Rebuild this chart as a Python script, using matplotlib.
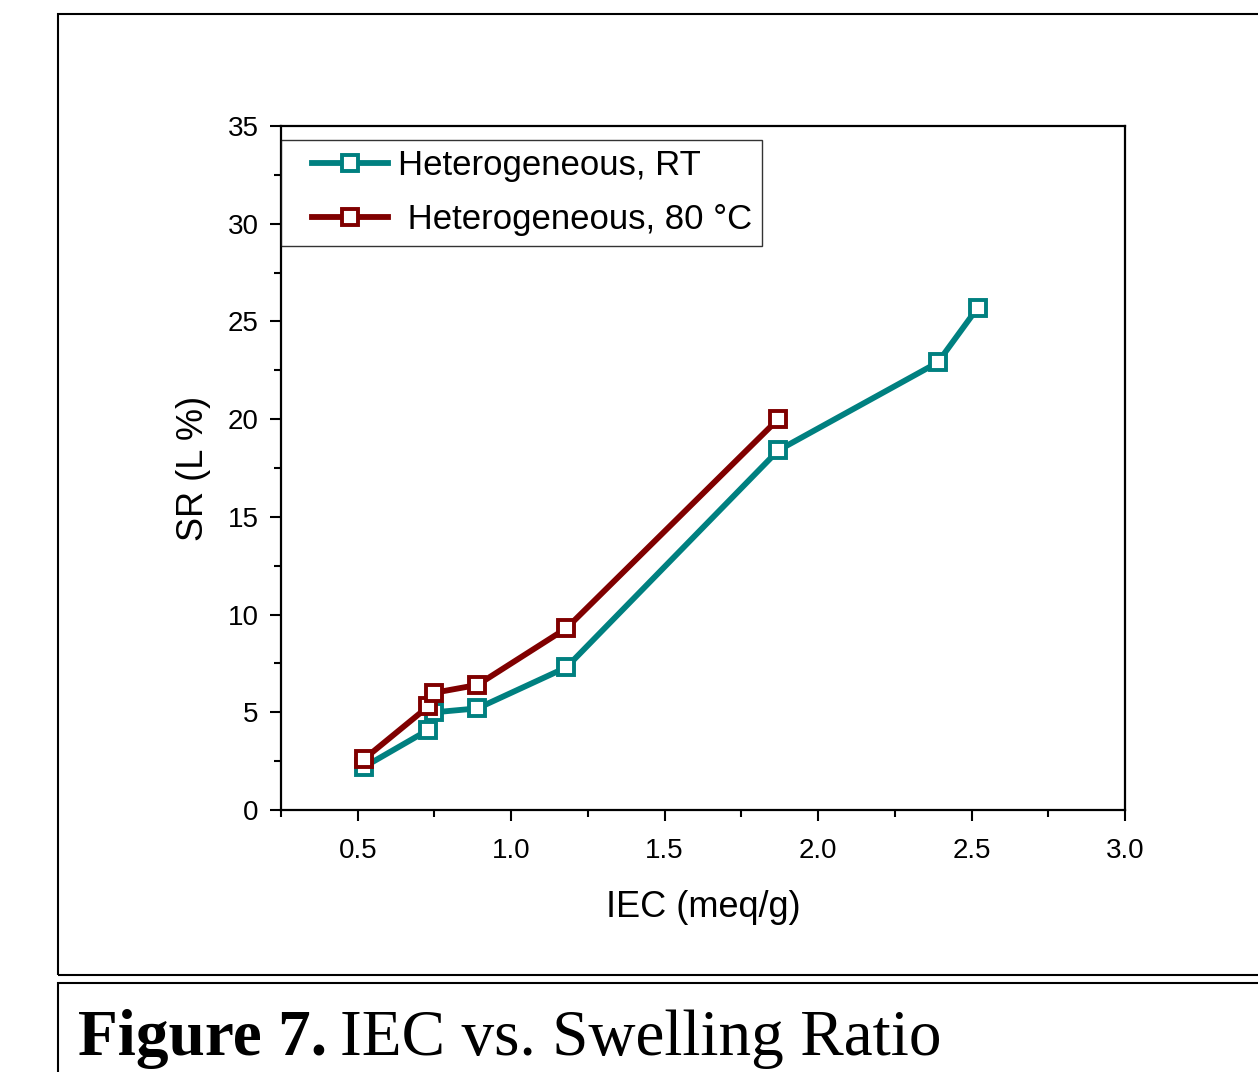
import matplotlib.pyplot as plt
from matplotlib.lines import Line2D
from matplotlib.legend_handler import HandlerLine2D
from matplotlib.patches import Rectangle
from matplotlib.ticker import MultipleLocator

# IEC (meq/g) vs swelling ratio (L %)
iec_rt = [0.52, 0.73, 0.75, 0.89, 1.18, 1.87, 2.39, 2.52]
sr_rt = [2.2, 4.1, 5.0, 5.2, 7.3, 18.4, 22.9, 25.7]
iec_80 = [0.52, 0.73, 0.75, 0.89, 1.18, 1.87]
sr_80 = [2.6, 5.3, 6.0, 6.4, 9.3, 20.0]

labels = ["Heterogeneous, RT", " Heterogeneous, 80 °C"]
colors = ["#008080", "#800000"]

plt.rcParams["font.family"] = ["Liberation Sans", "DejaVu Sans"]

W, H = 1258, 1072
fig = plt.figure(figsize=(W / 100, H / 100), dpi=100)

# outer frames of the scanned figure
fig.patches.append(Rectangle((58 / W, 1 - 975 / H), 1.2, (975 - 14) / H,
                             transform=fig.transFigure, fill=False,
                             edgecolor="black", linewidth=1.5))
fig.patches.append(Rectangle((58 / W, -0.1), 1.2, 0.1 + 1 - 983 / H,
                             transform=fig.transFigure, fill=False,
                             edgecolor="black", linewidth=1.5))

ax = fig.add_axes([281 / W, 1 - 810 / H, (1125 - 281) / W, (810 - 126) / H])

ax.plot(iec_rt, sr_rt, color=colors[0], lw=4.2, marker="s", ms=11,
        mfc="white", mec=colors[0], mew=2.8, label=labels[0])
ax.plot(iec_80, sr_80, color=colors[1], lw=4.2, marker="s", ms=11,
        mfc="white", mec=colors[1], mew=2.8, label=labels[1])

ax.set_xlim(0.25, 3.0)
ax.set_ylim(0, 35)
ax.xaxis.set_major_locator(MultipleLocator(0.5))
ax.xaxis.set_minor_locator(MultipleLocator(0.25))
ax.yaxis.set_major_locator(MultipleLocator(5))
ax.yaxis.set_minor_locator(MultipleLocator(2.5))
ax.xaxis.set_major_formatter(lambda v, p: f"{v:.1f}")
ax.tick_params(which="major", direction="out", length=8, width=1.5,
               labelsize=20, pad=8)
ax.tick_params(axis="x", which="major", pad=12)
ax.tick_params(which="minor", direction="out", length=5, width=1.5)
for s in ax.spines.values():
    s.set_linewidth(1.6)

ax.set_xlabel("IEC (meq/g)", fontsize=26, labelpad=19)
ax.set_ylabel("SR (L %)", fontsize=26, labelpad=12)

leg = ax.legend(loc="upper left", bbox_to_anchor=(0.0, 0.980), fontsize=25,
                frameon=True, fancybox=False, edgecolor="black",
                handlelength=2.8, handletextpad=0.3, borderpad=0.28,
                labelspacing=0.6, borderaxespad=0,
                handler_map={Line2D: HandlerLine2D(xpad=0.6)})
leg.get_frame().set_linewidth(1.0)

fig.text(78 / W, 1 - 1055 / H, "Figure 7.", family="Liberation Serif",
         fontweight="bold", fontsize=47, va="baseline")
fig.text(340 / W, 1 - 1055 / H, "IEC vs. Swelling Ratio",
         family="Liberation Serif", fontsize=47, va="baseline")

fig.savefig("out.png", dpi=100)
